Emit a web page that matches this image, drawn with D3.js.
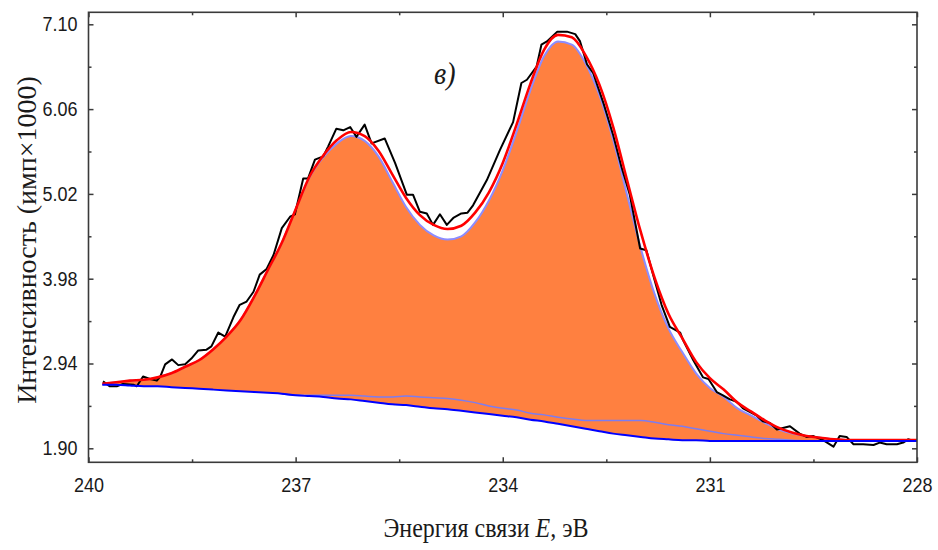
<!DOCTYPE html>
<html><head><meta charset="utf-8">
<script src="https://cdn.jsdelivr.net/npm/d3@7"></script>
<style>body{margin:0;background:#fff} svg{display:block}</style>
</head><body>
<svg id="c" width="938" height="550"></svg>
<script>
// ---- data (binding energy, eV; intensity, imp x 1000) ----
const energyGrid = [239.8,239.6,239.4,239.2,239.0,238.8,238.6,238.4,238.2,238.0,237.8,237.6,237.4,237.2,237.0,236.8,236.6,236.4,236.2,236.0,235.8,235.6,235.4,235.2,235.0,234.8,234.6,234.4,234.2,234.0,233.8,233.6,233.4,233.2,233.0,232.8,232.6,232.4,232.2,232.0,231.8,231.6,231.4,231.2,231.0,230.8,230.6,230.4,230.2,230.0,229.8,229.6,229.4,229.2,229.0,228.8,228.6,228.4,228.2,228.0];
const envelopeFit = [2.69,2.71,2.73,2.74,2.77,2.82,2.90,2.98,3.11,3.27,3.47,3.76,4.09,4.42,4.83,
  5.23,5.49,5.68,5.78,5.73,5.55,5.26,4.97,4.76,4.64,4.59,4.63,4.79,5.04,5.40,
  5.87,6.37,6.79,6.97,6.94,6.72,6.36,5.84,5.19,4.55,3.99,3.55,3.25,2.96,2.76,
  2.62,2.46,2.35,2.24,2.15,2.09,2.05,2.03,2.01,2.00,2.00,2.00,2.00,2.00,2.00];
const mainComponents = [2.69,2.71,2.73,2.74,2.77,2.82,2.90,2.98,3.11,3.27,3.47,3.76,4.09,4.42,4.83,
  5.22,5.47,5.64,5.73,5.67,5.48,5.17,4.86,4.64,4.51,4.46,4.50,4.67,4.94,5.31,
  5.78,6.29,6.71,6.89,6.85,6.62,6.23,5.68,5.01,4.35,3.79,3.37,3.08,2.82,2.64,
  2.53,2.39,2.30,2.21,2.13,2.08,2.05,2.03,2.01,2.00,2.00,2.00,2.00,2.00,2.00];
const minorComponent = [2.68,2.68,2.67,2.66,2.66,2.65,2.64,2.63,2.62,2.61,2.60,2.59,2.58,2.57,2.55,
  2.55,2.55,2.55,2.55,2.54,2.53,2.53,2.54,2.53,2.52,2.51,2.49,2.46,2.42,2.39,
  2.37,2.33,2.31,2.28,2.26,2.24,2.24,2.24,2.24,2.24,2.22,2.19,2.17,2.14,2.11,
  2.08,2.06,2.04,2.02,2.01,2.00,1.99,1.99,1.99,1.99,1.99,1.99,1.99,1.99,1.99];
const background = [2.68,2.68,2.67,2.66,2.66,2.65,2.64,2.63,2.62,2.61,2.60,2.59,2.58,2.57,2.55,
  2.54,2.53,2.51,2.50,2.48,2.46,2.44,2.43,2.41,2.39,2.38,2.36,2.34,2.32,2.30,
  2.28,2.25,2.23,2.20,2.17,2.14,2.11,2.08,2.06,2.04,2.02,2.01,2.00,2.00,1.99,
  1.99,1.99,1.99,1.99,1.99,1.99,1.99,1.99,1.99,1.99,1.99,1.99,1.99,1.99,1.99];
const rawEnergy = [239.79,239.69,239.59,239.50,239.35,239.30,239.21,239.11,239.01,238.96,
  238.89,238.79,238.70,238.60,238.51,238.41,238.29,238.22,238.12,238.02,
  237.90,237.81,237.71,237.61,237.52,237.42,237.32,237.20,237.08,237.01,
  236.89,236.82,236.72,236.60,236.53,236.41,236.31,236.21,236.12,236.00,
  235.90,235.71,235.56,235.39,235.30,235.20,235.10,235.01,234.91,234.81,
  234.71,234.60,234.51,234.43,234.23,234.04,233.85,233.73,233.65,233.51,
  233.44,233.36,233.21,233.07,232.95,232.88,232.78,232.69,232.54,232.40,
  232.28,232.16,232.01,231.92,231.80,231.70,231.58,231.43,231.39,231.24,
  231.10,231.02,230.90,230.81,230.71,230.61,230.52,230.32,230.23,230.13,
  230.03,229.84,229.70,229.60,229.50,229.36,229.21,229.12,229.02,228.92,
  228.78,228.63,228.54,228.44,228.29,228.20,228.13,228.08,228.01];
const rawCounts = [2.72,2.66,2.66,2.69,2.68,2.66,2.78,2.75,2.73,2.78,
  2.93,2.99,2.92,2.93,3.00,3.10,3.11,3.15,3.32,3.27,
  3.51,3.66,3.70,3.82,4.03,4.10,4.27,4.60,4.74,4.77,
  5.21,5.21,5.44,5.48,5.60,5.82,5.80,5.84,5.72,5.87,
  5.64,5.70,5.40,5.01,5.01,4.80,4.78,4.64,4.77,4.64,
  4.73,4.78,4.79,4.88,5.19,5.56,5.90,6.38,6.42,6.58,
  6.85,6.89,7.01,7.01,6.98,6.89,6.61,6.50,6.13,5.74,
  5.35,5.01,4.35,4.33,3.96,3.66,3.39,3.32,3.23,2.98,
  2.77,2.75,2.59,2.55,2.50,2.47,2.39,2.30,2.23,2.21,
  2.13,2.17,2.08,2.04,2.05,2.00,1.92,2.05,2.04,1.95,
  1.95,1.94,1.97,1.95,1.95,1.97,2.01,2.00,1.99];
const xTicks = [240, 237, 234, 231, 228];
const xMinorTicks = [238.5, 235.5, 232.5, 229.5];
const yTicks = [1.90, 2.94, 3.98, 5.02, 6.06, 7.10];
const yMinorTicks = [2.42, 3.46, 4.50, 5.54, 6.58];
const xTitle = ["Энергия связи ", "E", ", эВ"];
const yTitle = "Интенсивность (имп×1000)";
const panelLabel = "в)";

// ---- layout ----
const L = 88.5, R = 917, T = 12.3, B = 462.3;
const x = d3.scaleLinear().domain([240, 228]).range([L, R]);
const y = d3.scaleLinear().domain([1.7283, 7.2472]).range([B, T]);
const svg = d3.select('#c');

const grid = energyGrid.map((e, i) => ({e, env: envelopeFit[i], main: mainComponents[i], minor: minorComponent[i], bg: background[i]}));
const raw = rawEnergy.map((e, i) => ({e, v: rawCounts[i]}));
const curve = d3.curveMonotoneX;

svg.append('path').datum(grid)
  .attr('d', d3.area().x(d => x(d.e)).y0(d => y(d.bg)).y1(d => y(d.main)).curve(curve))
  .attr('fill', '#FF8040');
svg.append('path').datum(grid)
  .attr('d', d3.line().x(d => x(d.e)).y(d => y(d.main)).curve(curve))
  .attr('fill', 'none').attr('stroke', '#8C8CFF').attr('stroke-width', 2);
svg.append('path').datum(grid.slice(13))
  .attr('d', d3.line().x(d => x(d.e)).y(d => y(d.minor)).curve(curve))
  .attr('fill', 'none').attr('stroke', '#7C7CF0').attr('stroke-width', 1.5);
svg.append('path').datum(raw)
  .attr('d', d3.line().x(d => x(d.e)).y(d => y(d.v)))
  .attr('fill', 'none').attr('stroke', '#000').attr('stroke-width', 2).attr('stroke-linejoin', 'round');
svg.append('path').datum(grid)
  .attr('d', d3.line().x(d => x(d.e)).y(d => y(d.env)).curve(curve))
  .attr('fill', 'none').attr('stroke', '#FF0000').attr('stroke-width', 2.6);
svg.append('path').datum(grid)
  .attr('d', d3.line().x(d => x(d.e)).y(d => y(d.bg)).curve(curve))
  .attr('fill', 'none').attr('stroke', '#0000FF').attr('stroke-width', 2);

// ---- axes ----
const axisColor = '#3a3a3a';
function styleAxis(g) {
  g.selectAll('.domain').remove();
  g.selectAll('line').attr('stroke', axisColor).attr('stroke-width', 1.5);
}
const fmtY = d3.format('.2f');
const gl = svg.append('g').attr('transform', `translate(${L},0)`)
  .call(d3.axisLeft(y).tickValues(yTicks).tickSizeInner(-5).tickSizeOuter(0).tickPadding(11).tickFormat(fmtY));
styleAxis(gl);
gl.selectAll('text').attr('font-family', 'Liberation Sans, Arial, sans-serif').attr('font-size', 18)
  .attr('fill', '#1a1a1a').attr('dy', '0.32em').attr('transform', 'scale(1,1.1)');
const glm = svg.append('g').attr('transform', `translate(${L},0)`)
  .call(d3.axisLeft(y).tickValues(yMinorTicks).tickSize(-3).tickFormat(''));
styleAxis(glm);
const gr = svg.append('g').attr('transform', `translate(${R},0)`)
  .call(d3.axisRight(y).tickValues(yTicks).tickSize(-5).tickFormat(''));
styleAxis(gr);
const grm = svg.append('g').attr('transform', `translate(${R},0)`)
  .call(d3.axisRight(y).tickValues(yMinorTicks).tickSize(-3).tickFormat(''));
styleAxis(grm);

const gb = svg.append('g').attr('transform', `translate(0,${B})`)
  .call(d3.axisBottom(x).tickValues(xTicks).tickSizeInner(-5).tickSizeOuter(0).tickFormat(d3.format('d')));
styleAxis(gb);
gb.selectAll('text').attr('font-family', 'Liberation Sans, Arial, sans-serif').attr('font-size', 18)
  .attr('fill', '#1a1a1a').attr('y', 27.3).attr('dy', 0).attr('transform', 'scale(1,1.1)');
const gbm = svg.append('g').attr('transform', `translate(0,${B})`)
  .call(d3.axisBottom(x).tickValues(xMinorTicks).tickSize(-3).tickFormat(''));
styleAxis(gbm);
const gt = svg.append('g').attr('transform', `translate(0,${T})`)
  .call(d3.axisTop(x).tickValues(xTicks).tickSize(-5).tickFormat(''));
styleAxis(gt);
const gtm = svg.append('g').attr('transform', `translate(0,${T})`)
  .call(d3.axisTop(x).tickValues(xMinorTicks).tickSize(-3).tickFormat(''));
styleAxis(gtm);

svg.append('rect').attr('x', L).attr('y', T).attr('width', R - L).attr('height', B - T)
  .attr('fill', 'none').attr('stroke', axisColor).attr('stroke-width', 1.6);

// ---- titles ----
const xt = svg.append('text').attr('transform', 'translate(486,537) scale(1,1.12)')
  .attr('text-anchor', 'middle').attr('font-family', 'Liberation Serif, Times New Roman, serif')
  .attr('font-size', 24).attr('fill', '#1a1a1a');
xt.append('tspan').text(xTitle[0]);
xt.append('tspan').attr('font-style', 'italic').text(xTitle[1]);
xt.append('tspan').text(xTitle[2]);

svg.append('text').attr('transform', 'translate(36,240) rotate(-90)')
  .attr('text-anchor', 'middle').attr('font-family', 'Liberation Serif, Times New Roman, serif')
  .attr('font-size', 28).attr('fill', '#1a1a1a').text(yTitle);

svg.append('text').attr('transform', 'translate(434,83.5) scale(1,1.12)')
  .attr('font-family', 'Liberation Serif, Times New Roman, serif').attr('font-style', 'italic')
  .attr('font-size', 28).attr('fill', '#1a1a1a').text(panelLabel);
</script>
</body></html>
